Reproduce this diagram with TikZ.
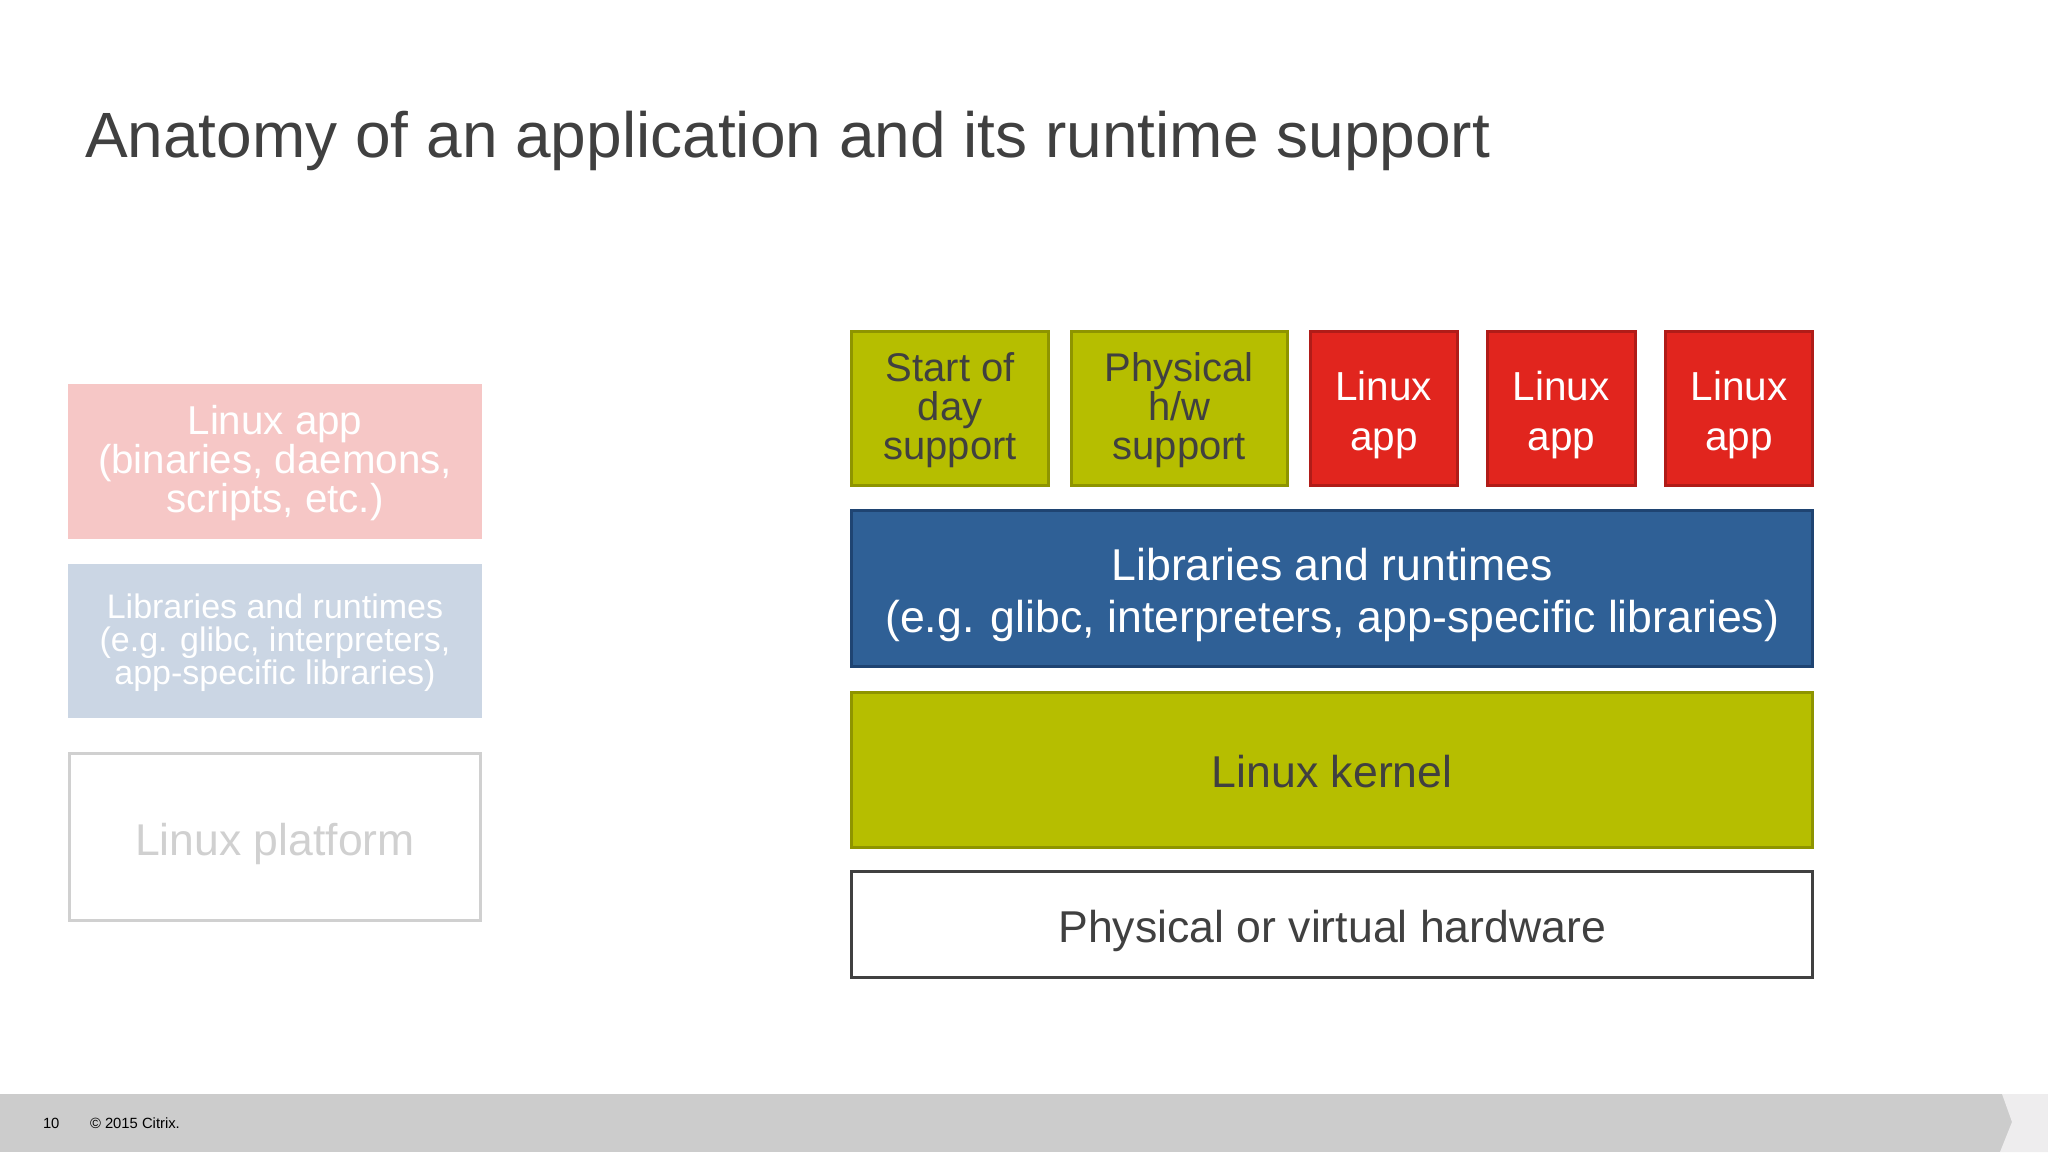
\documentclass[tikz,border=0pt]{standalone}
\usepackage{fontspec}
\setmainfont{Liberation Sans}
\definecolor{olivef}{HTML}{B6BE00}
\definecolor{oliveb}{HTML}{8E9400}
\definecolor{redf}{HTML}{E1251E}
\definecolor{redb}{HTML}{B01C18}
\definecolor{bluef}{HTML}{2F6096}
\definecolor{blueb}{HTML}{1F4472}
\definecolor{darkt}{HTML}{404040}
\definecolor{pinkf}{HTML}{F6C7C6}
\definecolor{lbluef}{HTML}{CBD6E4}
\definecolor{lgray}{HTML}{D0D0D0}
\definecolor{footg}{HTML}{CCCCCC}
\definecolor{footl}{HTML}{EEEDEE}
\begin{document}
\begin{tikzpicture}[x=1pt,y=-1pt,
  every node/.style={inner sep=0pt, outer sep=0pt, align=center},
  layer/.style={rectangle, line width=3pt},
  olivebox/.style={layer, fill=olivef, draw=oliveb},
  redbox/.style={layer, fill=redf, draw=redb},
  bluebox/.style={layer, fill=bluef, draw=blueb},
  hwbox/.style={layer, fill=white, draw=darkt},
  fadedpink/.style={rectangle, fill=pinkf},
  fadedblue/.style={rectangle, fill=lbluef},
  fadedplat/.style={rectangle, fill=white, draw=lgray, line width=3pt},
  small/.style={text=darkt, font=\fontsize{40}{39}\selectfont},
  appfont/.style={text=white, font=\fontsize{40.5}{50}\selectfont},
  bigw/.style={text=white, font=\fontsize{44.6}{52}\selectfont},
  bigd/.style={text=darkt, font=\fontsize{44.6}{52}\selectfont},
  pinkt/.style={text=white, font=\fontsize{40.3}{39}\selectfont},
  lbluet/.style={text=white, font=\fontsize{34}{33}\selectfont},
  platt/.style={text=lgray, font=\fontsize{44.5}{50}\selectfont}
]
\fill[white] (0,0) rectangle (2048,1152);
\useasboundingbox (0,0) rectangle (2048,1152);

% title
\node[anchor=base west, text=darkt, font=\fontsize{64}{72}\selectfont] (title) at (85,157)
  {Anatomy of an application and its runtime support};

% left faded stack
\node[fadedpink, minimum width=414pt, minimum height=155pt] (lapp) at (275,461.5) {};
\node[fadedblue, minimum width=414pt, minimum height=154pt] (llib) at (275,641) {};
\node[fadedplat, minimum width=411pt, minimum height=167pt] (lplat) at (275,837.2) {};
\node[pinkt] (lappT) at ([yshift=-1.3pt]lapp.center) {Linux app\\(binaries, daemons,\\scripts, etc.)};
\node[lbluet] (llibT) at ([yshift=-1.3pt]llib.center) {Libraries and runtimes\\(e.g. glibc, interpreters,\\app-specific libraries)};
\node[platt] (lplatT) at ([yshift=-6.5pt]lplat.center) {Linux platform};

% right stack, top row
\node[olivebox, minimum width=197pt, minimum height=154pt] (sod) at (950.2,408.7) {};
\node[olivebox, minimum width=216.8pt, minimum height=154pt] (phys) at (1179.4,408.7) {};
\node[redbox, minimum width=147.5pt, minimum height=154pt] (app1) at (1383.8,408.7) {};
\node[redbox, minimum width=147.4pt, minimum height=154pt] (app2) at (1561.3,408.7) {};
\node[redbox, minimum width=147.8pt, minimum height=154pt] (app3) at (1738.9,408.7) {};
\node[small] (sodT) at ([yshift=-1.3pt]sod.center) {Start of\\day\\support};
\node[small] (physT) at ([yshift=-1.3pt]phys.center) {Physical\\h/w\\support};
\node[appfont] (app1T) at ([yshift=-6pt]app1.center) {Linux\\app};
\node[appfont] (app2T) at ([yshift=-6pt]app2.center) {Linux\\app};
\node[appfont] (app3T) at ([yshift=-6pt]app3.center) {Linux\\app};

% right stack, layers
\node[bluebox, minimum width=961.2pt, minimum height=155.4pt] (libs) at (1332.2,588.3) {};
\node[olivebox, minimum width=961.2pt, minimum height=155.6pt] (kern) at (1332.2,769.8) {};
\node[hwbox, minimum width=961.2pt, minimum height=106pt] (hw) at (1332.2,924) {};
\node[bigw] (libsT) at ([yshift=-6.5pt]libs.center) {Libraries and runtimes\\(e.g. glibc, interpreters, app-specific libraries)};
\node[bigd] (kernT) at ([yshift=-1.3pt]kern.center) {Linux kernel};
\node[bigd] (hwT) at ([yshift=-6.5pt]hw.center) {Physical or virtual hardware};

% footer
\fill[footg] (0,1094) rectangle (2048,1152);
\fill[footl] (2002,1094) -- (2048,1094) -- (2048,1152) -- (2000,1152) -- (2012,1122) -- cycle;
\node[anchor=base west, text=black, font=\fontsize{14.8}{16}\selectfont] (pgno) at (43,1128) {10};
\node[anchor=base west, text=black, font=\fontsize{14.8}{16}\selectfont] (copy) at (90,1128) {© 2015 Citrix.};
\end{tikzpicture}
\end{document}
